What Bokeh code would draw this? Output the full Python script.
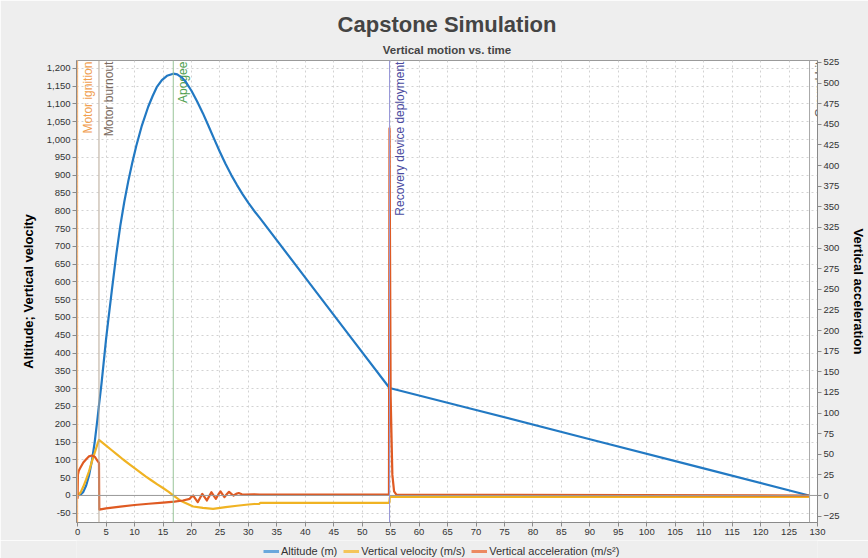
import math
from bokeh.plotting import figure
from bokeh.layouts import column
from bokeh.models import (Range1d, LinearAxis, SingleIntervalTicker, NumeralTickFormatter,
                          Span, Legend, LegendItem, Title, ColumnDataSource)
from bokeh.core.properties import value
from bokeh.embed import file_html
from bokeh.resources import INLINE

# ---------------- data ----------------
alt_t = [0, 0.5, 1, 1.5, 2, 2.5, 3, 3.5, 3.75, 4.2, 5, 5.4, 6, 6.8, 7.5, 8.2, 8.9, 9.6,
         10.3, 11.3, 12.4, 13.2, 13.9, 14.8, 15.7, 16.8, 17.5, 18.3, 19, 20, 21, 22, 23,
         24, 25, 26, 27, 28, 29, 30, 31, 32, 40, 48, 54.8, 70, 90, 110, 128.5]
alt_m = [0, 2, 10, 28, 56, 97, 150, 217, 254, 315, 440, 495, 575, 678, 758, 825, 883, 935,
         982, 1040, 1092, 1123, 1147, 1167, 1179, 1185, 1183, 1174, 1162, 1137, 1107, 1074, 1038,
         1001, 965, 931, 900, 872, 846, 822, 800, 780, 612, 444, 302, 240, 158, 76, 0]

vel_t = [0, 0.5, 1, 1.5, 2, 2.5, 3, 3.5, 3.75, 5, 6, 7, 8, 9, 10, 11, 12, 13, 14, 15, 16,
         16.8, 18, 20.3, 22, 23.8, 26, 28, 30, 31, 31.9, 32.1, 40, 54.75, 54.85, 55.1, 60, 128.5]
vel_ms = [0, 8, 25, 45, 68, 95, 120, 145, 156, 140, 127, 114, 101, 89, 77, 65, 53, 42, 31, 21, 10,
          0, -14, -31, -35, -37.5, -33, -29, -25.5, -24, -23.5, -21, -21, -21, -6, -4, -4.1, -4.1]

acc_t = [0, 0.05, 0.2, 0.5, 1, 1.5, 2, 2.5, 3, 3.4, 3.75, 3.8, 5, 7.5, 10, 12.5, 15, 17, 18.5,
         19.7, 20.0, 20.3, 20.7, 21.1, 21.5, 21.9, 22.3, 22.7, 23.1, 23.5, 23.9, 24.3, 24.7,
         25.1, 25.45, 25.8, 26.2, 26.6, 27.0, 27.4, 27.85, 28.3, 28.85, 29.4, 31, 32,
         32.2, 54.7, 54.8, 55.0, 55.3, 55.6, 56, 128.5]
acc_ms2 = [-4, 25, 30, 34, 40, 44, 47.5, 48.5, 47, 43, 39.5, -17, -15.5, -13.5, -11.5, -10, -8.5,
           -7.5, -6, -4, -1.5, 0, -4, -8, -3, 2, -2, -6, -1, 4, 0, -4, 1,
           5, 1.5, -2, 1.5, 4.5, 2, 0, 2, 3, 1.5, 1, 1.5, 1.2,
           1.0, 1.0, 445, 120, 25, 5, 1, 0]

event_names = ["Motor ignition", "Motor burnout", "Apogee", "Recovery device deployment", "Ground hit"]
event_t = [0.0, 3.75, 16.8, 54.8, 128.6]
event_line_colors = ["#f4b070", "#b8a898", "#98c498", "#9898d8", "#a8a8a8"]
event_text_colors = ["#f0a050", "#7a6a60", "#50a050", "#4a4aa0", "#606060"]

series_names = ["Altitude (m)", "Vertical velocity (m/s)", "Vertical acceleration (m/s\u00b2)"]
series_colors = ["#2279c3", "#f0b323", "#df5a22"]
legend_colors = ["#6aa8dc", "#f4c55a", "#ec8a62"]

FONT = "Liberation Sans"
BG = "#eeeeee"

# ---------------- main figure ----------------
p = figure(width=868, height=540, output_backend="svg", toolbar_location=None,
           x_range=Range1d(-0.2, 130), y_range=Range1d(-76, 1222),
           min_border_left=76, min_border_right=45, min_border_top=60, min_border_bottom=18,
           background_fill_color="white", border_fill_color=BG)
p.title.visible = False
p.extra_y_ranges = {"acc": Range1d(-32.7, 527.3)}
p.outline_line_color = "#9a9a9a"

p.add_layout(Title(text="Vertical motion vs. time", align="center", text_font=FONT,
                   text_font_size="11.5px", text_font_style="bold", standoff=10), "above")
p.add_layout(Title(text="Capstone Simulation", align="center", text_font=FONT,
                   text_font_size="22px", text_font_style="bold", standoff=0), "above")

p.xaxis.ticker = SingleIntervalTicker(interval=5)
p.yaxis.ticker = SingleIntervalTicker(interval=50)
p.yaxis.formatter = NumeralTickFormatter(format="0,0")
p.yaxis.axis_label = "Altitude; Vertical velocity"

right = LinearAxis(y_range_name="acc", ticker=SingleIntervalTicker(interval=25),
                   axis_label="Vertical acceleration")
p.add_layout(right, "right")

for ax in [p.xaxis[0], p.yaxis[0], right]:
    ax.major_label_text_font = FONT
    ax.major_label_text_font_size = "9.5px"
    ax.major_label_text_color = "#333333"
    ax.major_tick_out = 4
    ax.major_tick_in = 0
    ax.minor_tick_out = 0
    ax.minor_tick_in = 0
    ax.axis_line_color = "#8a8a8a"
    ax.major_tick_line_color = "#8a8a8a"
    ax.major_label_standoff = 2
    ax.axis_label_text_font = FONT
    ax.axis_label_text_font_size = "13px"
    ax.axis_label_text_font_style = "bold"
    ax.axis_label_text_color = "black"
    ax.axis_label_standoff = 8

p.grid.grid_line_color = "#d2d2d2"
p.grid.grid_line_dash = "2 3"

p.add_layout(Span(location=0, dimension="width", line_color="#9a9a9a", line_width=1))

# event lines and labels
for t, c in zip(event_t, event_line_colors):
    p.add_layout(Span(location=t, dimension="height", line_color=c, line_width=1))
ev_src = ColumnDataSource(dict(x=event_t, y=[1219] * len(event_t), text=event_names,
                               color=event_text_colors))
p.text(x="x", y="y", text="text", source=ev_src, angle=math.pi / 2, text_align="right",
       text_baseline="top", x_offset=3, text_color="color",
       text_font=value(FONT), text_font_size="12px")

p.line(alt_t, alt_m, line_color=series_colors[0], line_width=2.2, line_join="round")
p.line(vel_t, vel_ms, line_color=series_colors[1], line_width=2.2, line_join="round")
p.line(acc_t, acc_ms2, line_color=series_colors[2], line_width=2.2, line_join="round",
       y_range_name="acc")

# ---------------- legend strip ----------------
lf = figure(width=868, height=18, output_backend="svg", toolbar_location=None,
            x_range=Range1d(0, 1), y_range=Range1d(0, 1), x_axis_type=None, y_axis_type=None,
            min_border=0, min_border_left=0, min_border_right=0, min_border_top=0,
            min_border_bottom=0, background_fill_color=BG, border_fill_color=BG)
lf.title.visible = False
lf.outline_line_color = None
lf.grid.visible = False
# off-screen stand-ins whose only job is to give the legend its swatches
dummies = [lf.line([-5, -4], [-5, -4], line_color=c, line_width=3) for c in legend_colors]
legend = Legend(items=[LegendItem(label=n, renderers=[r]) for n, r in zip(series_names, dummies)],
                location=(187, 1), orientation="horizontal",
                background_fill_alpha=0, border_line_alpha=0,
                label_text_font=FONT, label_text_font_size="11px", label_text_color="#333333",
                label_height=12, glyph_width=16, glyph_height=10, label_standoff=2, spacing=6,
                padding=0, margin=0)
lf.add_layout(legend, "center")

layout = column(p, lf, spacing=0)
open("out.html", "w").write(file_html(layout, INLINE))
